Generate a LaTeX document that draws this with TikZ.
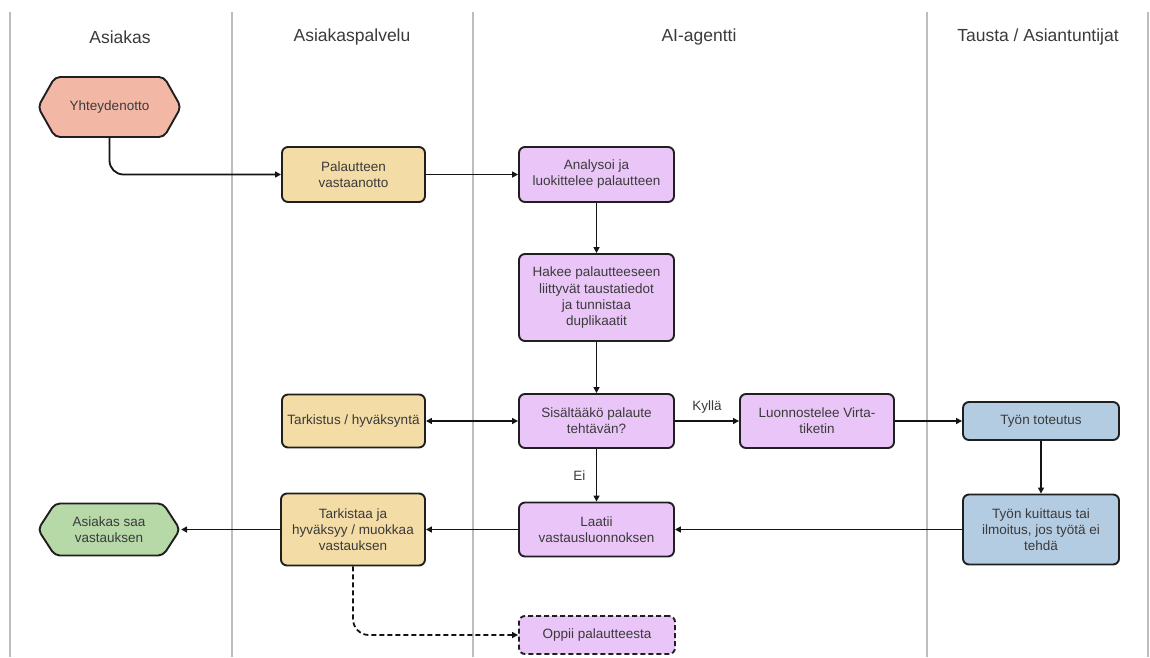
\documentclass[tikz,border=0pt]{standalone}
\usepackage{fontspec}
\setmainfont{Liberation Sans}
\usetikzlibrary{arrows.meta,shapes.symbols}
\definecolor{txt}{HTML}{3A3A3A}
\definecolor{lane}{HTML}{BDBDBD}
\definecolor{salmon}{HTML}{F3B7A6}
\definecolor{tan}{HTML}{F3DCA6}
\definecolor{violet}{HTML}{EAC6F8}
\definecolor{steel}{HTML}{B4CCE2}
\definecolor{mint}{HTML}{B7D9A8}
\tikzset{
  boxtext/.style={font=\fontsize{13.5}{16}\selectfont, text=txt, align=center},
  box/.style={boxtext, draw=black!88, line width=1.9pt, rounded corners=6pt, inner sep=2pt},
  hexbox/.style={boxtext, draw=black!88, line width=1.9pt, rounded corners=5pt, inner sep=2pt,
    shape=signal, signal to=east and west},
  header/.style={font=\fontsize{17.5}{20}\selectfont, text=txt},
  lanesep/.style={draw=lane, line width=1.4pt},
  conn/.style={draw=black!92, line width=1.8pt, -{Triangle[length=6pt,width=6pt]}},
  dconn/.style={conn, dash pattern=on 5pt off 3pt},
  lbl/.style={font=\fontsize{13.5}{16}\selectfont, text=txt},
}
\begin{document}
\begin{tikzpicture}[x=1pt,y=-1pt]
\useasboundingbox (0,0) rectangle (1150,657);
% lanes
\foreach \xx/\nm in {10/l1,232/l2,473/l3,927/l4,1148/l5}{
  \coordinate (\nm t) at (\xx,12);
  \coordinate (\nm b) at (\xx,657);
  \draw[lanesep] (\nm t) -- (\nm b);
}
\node[header] (h1) at (120,37) {Asiakas};
\node[header] (h2) at (352,37) {Asiakaspalvelu};
\node[header] (h3) at (699,37) {AI-agentti};
\node[header] (h4) at (1038,37) {Tausta / Asiantuntijat};

% nodes
\node[hexbox, fill=salmon, minimum width=143pt, minimum height=60pt, signal pointer angle=121] (yht) at (109.5,107) {Yhteydenotto};
\node[box, fill=tan, minimum width=143pt, minimum height=55pt] (pal) at (353.5,174.5) {Palautteen\\vastaanotto};
\node[box, fill=violet, minimum width=155pt, minimum height=55pt] (ana) at (596.5,174.5) {Analysoi ja\\luokittelee palautteen};
\node[box, fill=violet, minimum width=155pt, minimum height=87pt] (hak) at (596.5,297.5) {Hakee palautteeseen\\liittyvät taustatiedot\\ja tunnistaa\\duplikaatit};
\node[box, fill=violet, minimum width=155pt, minimum height=54pt] (sis) at (596.5,421) {Sisältääkö palaute\\tehtävän?};
\node[box, fill=tan, minimum width=143pt, minimum height=53pt] (tar) at (353.5,421) {Tarkistus / hyväksyntä};
\node[box, fill=violet, minimum width=154pt, minimum height=54pt] (luo) at (817,421) {Luonnostelee Virta-\\tiketin};
\node[box, fill=steel, minimum width=156pt, minimum height=38pt] (tot) at (1041,421) {Työn toteutus};
\node[box, fill=steel, minimum width=156pt, minimum height=70pt] (kui) at (1041,529.5) {Työn kuittaus tai\\ilmoitus, jos työtä ei\\tehdä};
\node[box, fill=violet, minimum width=155pt, minimum height=54pt] (laa) at (596.5,529.5) {Laatii\\vastausluonnoksen};
\node[box, fill=tan, minimum width=144pt, minimum height=72pt] (tka) at (353,529.5) {Tarkistaa ja\\hyväksyy / muokkaa\\vastauksen};
\node[hexbox, fill=mint, minimum width=142pt, minimum height=52pt, signal pointer angle=114] (saa) at (109,529.5) {Asiakas saa\\vastauksen};
\node[box, fill=violet, minimum width=156pt, minimum height=38pt, dash pattern=on 5pt off 3pt] (opp) at (597,635) {Oppii palautteesta};

% connectors
\draw[conn, rounded corners=14pt] (yht.south) |- (pal.west);
\draw[conn] (pal.east) -- (ana.west);
\draw[conn] (ana.south) -- (hak.north);
\draw[conn] (hak.south) -- (sis.north);
\draw[conn, {Triangle[length=6pt,width=6pt]}-{Triangle[length=6pt,width=6pt]}] (tar.east) -- (sis.west);
\draw[conn] (sis.east) -- node[lbl, above=3pt, pos=0.5] (ky) {Kyllä} (luo.west);
\draw[conn] (luo.east) -- (tot.west);
\draw[conn] (tot.south) -- (kui.north);
\draw[conn] (sis.south) -- node[lbl, left=7pt, pos=0.5] (ei) {Ei} (laa.north);
\draw[conn] (kui.west) -- (laa.east);
\draw[conn] (laa.west) -- (tka.east);
\draw[conn] (tka.west) -- (saa.east);
\draw[dconn, rounded corners=16pt] (tka.south) |- (opp.west);
\end{tikzpicture}
\end{document}
